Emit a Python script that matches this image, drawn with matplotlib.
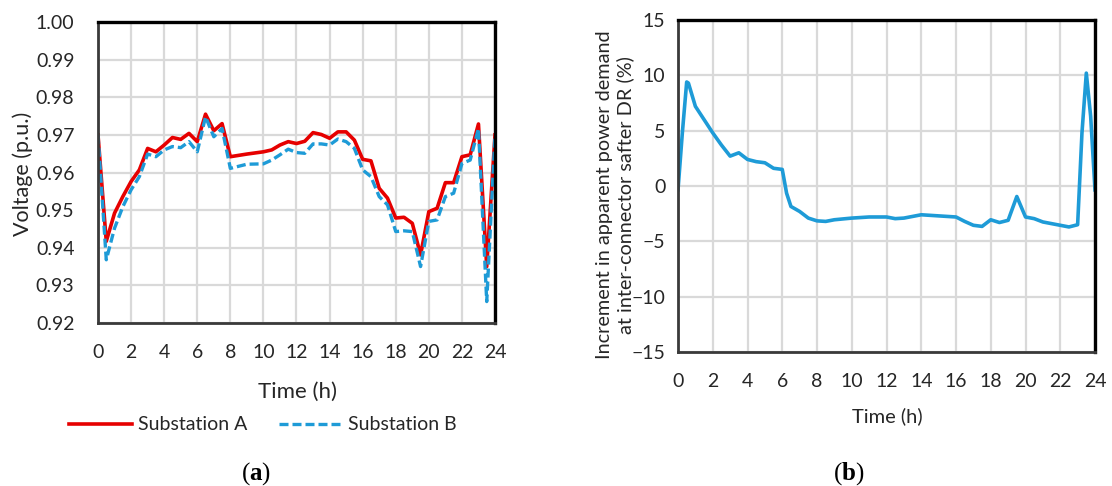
import matplotlib
matplotlib.use("Agg")
import matplotlib.pyplot as plt
from matplotlib.lines import Line2D

plt.rcParams['font.family'] = ['Lato', 'DejaVu Sans']
plt.rcParams['mathtext.fontset'] = 'custom'
plt.rcParams['mathtext.rm'] = 'Liberation Serif'
plt.rcParams['mathtext.bf'] = 'Liberation Serif:bold'

# ---- data: panel (a) ----
time_a = [0, 0.5, 1, 1.5, 2, 2.5, 3, 3.5, 4, 4.5, 5, 5.5, 6, 6.5, 7, 7.5, 8,
          9, 10, 10.5, 11, 11.5, 12, 12.5, 13, 13.5, 14, 14.5, 15, 15.5, 16,
          16.5, 17, 17.5, 18, 18.5, 19, 19.5, 20, 20.5, 21, 21.5, 22, 22.5,
          23, 23.5, 24]
sub_a = [0.970, 0.9417, 0.9492, 0.9536, 0.9576, 0.9607, 0.9664, 0.9655,
         0.9673, 0.9693, 0.9688, 0.9704, 0.9682, 0.9755, 0.9711, 0.9730,
         0.9642, 0.9649, 0.9655, 0.9660, 0.9673, 0.9682, 0.9677, 0.9683,
         0.9706, 0.9701, 0.9691, 0.9708, 0.9708, 0.9686, 0.9635, 0.9631,
         0.9558, 0.9532, 0.9479, 0.9481, 0.9465, 0.9381, 0.9496, 0.9505,
         0.9573, 0.9573, 0.9642, 0.9647, 0.9729, 0.9350, 0.970]
sub_b = [0.970, 0.9368, 0.9452, 0.9509, 0.9554, 0.9589, 0.9649, 0.9642,
         0.9660, 0.9669, 0.9666, 0.9682, 0.9655, 0.9748, 0.9695, 0.9717,
         0.9611, 0.9622, 0.9623, 0.9633, 0.9647, 0.9662, 0.9653, 0.9651,
         0.9676, 0.9676, 0.9673, 0.9689, 0.9682, 0.9664, 0.9607, 0.9589,
         0.9536, 0.9514, 0.9443, 0.9445, 0.9443, 0.9350, 0.9470, 0.9474,
         0.9536, 0.9545, 0.9624, 0.9633, 0.9717, 0.9257, 0.970]

# ---- data: panel (b) ----
time_b = [0, 0.25, 0.5, 0.6, 1, 1.5, 2, 2.5, 3, 3.5, 4, 4.5, 5, 5.5, 6,
          6.25, 6.5, 7, 7.5, 8, 8.5, 9, 10, 11, 12, 12.5, 13, 14, 15, 16,
          16.5, 17, 17.5, 18, 18.5, 19, 19.5, 20, 20.5, 21, 22, 22.5, 23,
          23.25, 23.5, 23.75, 24]
incr_b = [-0.35, 4.8, 9.4, 9.3, 7.2, 6.0, 4.8, 3.7, 2.7, 3.0, 2.4, 2.2, 2.1,
          1.6, 1.5, -0.65, -1.85, -2.3, -2.9, -3.15, -3.2, -3.05, -2.9, -2.8,
          -2.8, -2.95, -2.9, -2.6, -2.7, -2.8, -3.2, -3.55, -3.65, -3.05,
          -3.3, -3.1, -0.95, -2.8, -2.95, -3.25, -3.55, -3.7, -3.5, 4.8,
          10.2, 6.3, -0.35]

x_ticks = list(range(0, 25, 2))
ya_ticks = [0.92, 0.93, 0.94, 0.95, 0.96, 0.97, 0.98, 0.99, 1.00]
yb_ticks = [-15, -10, -5, 0, 5, 10, 15]

W, H = 1112, 486
fig = plt.figure(figsize=(W / 100, H / 100), dpi=100)

RED = '#e60000'
BLUE = '#1e9bd7'
GRID = '#d9d9d9'
TXT = '#262626'
DASH = (0, (2.7, 1.2))


def style(ax):
    ax.grid(True, color=GRID, linewidth=1.6)
    ax.set_axisbelow(True)
    for k in ('top', 'right'):
        ax.spines[k].set_color('black')
        ax.spines[k].set_linewidth(2.4)
    for k in ('left', 'bottom'):
        ax.spines[k].set_color('#3a3a3a')
        ax.spines[k].set_linewidth(2.0)
    ax.tick_params(length=0, labelsize=14, colors=TXT)
    ax.tick_params(axis='x', pad=15)
    ax.set_xlim(0, 24)
    ax.set_xticks(x_ticks)


# ---- panel (a) ----
ax1 = fig.add_axes([98 / W, 1 - 323 / H, (495 - 98) / W, (323 - 22) / H])
ax1.plot(time_a, sub_a, color=RED, linewidth=2.6, solid_joinstyle='round')
ax1.plot(time_a, sub_b, color=BLUE, linewidth=2.4, linestyle=DASH)
style(ax1)
ax1.tick_params(axis='y', pad=17)
ax1.set_ylim(0.92, 1.00)
ax1.set_yticks(ya_ticks)
ax1.set_yticklabels([f"{v:.2f}" for v in ya_ticks])
ax1.set_xlabel('Time (h)', fontsize=16, color=TXT)
ax1.xaxis.set_label_coords(0.502, -0.195)
ax1.set_ylabel('Voltage (p.u.)', fontsize=15.5, color=TXT)
ax1.yaxis.set_label_coords(-0.163, 0.495)

handles = [Line2D([], [], color=RED, linewidth=2.6),
           Line2D([], [], color=BLUE, linewidth=2.4, linestyle=DASH)]
fig.legend(handles, ['Substation A', 'Substation B'], loc='center',
           bbox_to_anchor=(263 / W, 1 - 425 / H), ncol=2, frameon=False,
           fontsize=14, handlelength=3.25, handletextpad=0.3,
           columnspacing=1.65, labelcolor=TXT)

# ---- panel (b) ----
ax2 = fig.add_axes([678 / W, 1 - 352 / H, (1095 - 678) / W, (352 - 20) / H])
ax2.plot(time_b, incr_b, color=BLUE, linewidth=2.6, solid_joinstyle='round')
style(ax2)
ax2.tick_params(axis='y', pad=9)
ax2.set_ylim(-15, 15)
ax2.set_yticks(yb_ticks)
ax2.set_xlabel('Time (h)', fontsize=14.5, color=TXT)
ax2.xaxis.set_label_coords(0.501, -0.165)
ax2.set_ylabel('Increment in apparent power demand\nat inter-connector safter DR (%)',
               fontsize=14.3, color=TXT, linespacing=1.2)
ax2.yaxis.set_label_coords(-0.106, 0.474)

fig.text(256 / W, 1 - 474 / H, r'($\mathbf{a}$)', ha='center', va='center',
         fontsize=18, family=['Liberation Serif', 'DejaVu Serif'], color='black')
fig.text(849 / W, 1 - 474 / H, r'($\mathbf{b}$)', ha='center', va='center',
         fontsize=18, family=['Liberation Serif', 'DejaVu Serif'], color='black')

fig.savefig('out.png', dpi=100)
